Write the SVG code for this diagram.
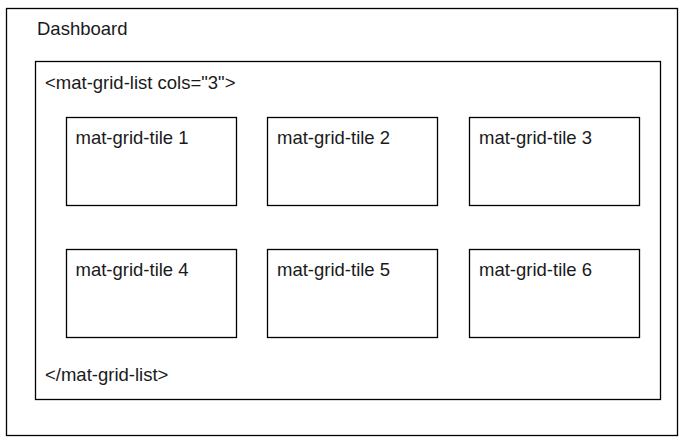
<svg xmlns="http://www.w3.org/2000/svg" width="684" height="443" viewBox="0 0 684 443">
<style>
rect{fill:#fff;stroke:#000;stroke-width:1.3}
text{font-family:"Liberation Sans",Arial,sans-serif;font-size:18.5px;fill:#1a1a1a}
</style>
<rect x="0" y="0" width="684" height="443" style="stroke:none"/>
<g id="dashboard">
<rect x="6.5" y="8.5" width="671" height="427"/>
<text x="37" y="34.5">Dashboard</text>
</g>
<g id="grid-list">
<rect x="35.5" y="61.5" width="625" height="338"/>
<text x="45" y="88.5">&lt;mat-grid-list cols="3"&gt;</text>
<text x="45" y="381">&lt;/mat-grid-list&gt;</text>
</g>
<g id="tile1"><rect x="66.5" y="117.5" width="170" height="88"/><text x="75.5" y="143.5">mat-grid-tile 1</text></g>
<g id="tile2"><rect x="267.5" y="117.5" width="170" height="88"/><text x="277" y="143.5">mat-grid-tile 2</text></g>
<g id="tile3"><rect x="469.5" y="117.5" width="170" height="88"/><text x="479" y="143.5">mat-grid-tile 3</text></g>
<g id="tile4"><rect x="66.5" y="249.5" width="170" height="88"/><text x="75.5" y="275.5">mat-grid-tile 4</text></g>
<g id="tile5"><rect x="267.5" y="249.5" width="170" height="88"/><text x="277" y="275.5">mat-grid-tile 5</text></g>
<g id="tile6"><rect x="469.5" y="249.5" width="170" height="88"/><text x="479" y="275.5">mat-grid-tile 6</text></g>
<g id="connectors"/>
</svg>
